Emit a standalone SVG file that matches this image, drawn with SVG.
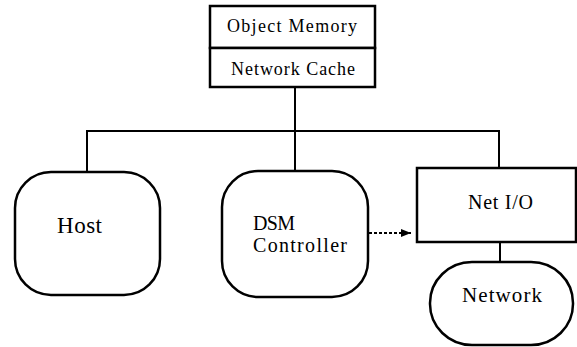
<svg xmlns="http://www.w3.org/2000/svg" width="577" height="347" viewBox="0 0 577 347">
<defs>
<style>
.box{fill:#fff;stroke:#000;stroke-width:2.5}
.ln{fill:none;stroke:#000;stroke-width:2}
text{font-family:'Liberation Serif','DejaVu Serif',serif;fill:#000}
</style>
<marker id="ah" viewBox="0 0 10 8" refX="10" refY="4" markerWidth="10" markerHeight="8" markerUnits="userSpaceOnUse" orient="auto">
<path d="M0,0 L10,4 L0,8 Z" fill="#000"/>
</marker>
</defs>
<rect width="577" height="347" fill="#fff"/>
<g id="connectors">
<path class="ln" d="M87,172 V131 H499 V168"/>
<path class="ln" d="M295,87 V171"/>
<path class="ln" d="M500,242 V262"/>
<path d="M369,233 H411" fill="none" stroke="#000" stroke-width="2" stroke-dasharray="3,2" marker-end="url(#ah)"/>
</g>
<g id="object-memory">
<rect class="box" x="210" y="6" width="165" height="42"/>
<text x="292" y="32" font-family="Liberation Serif, serif" font-size="18" text-anchor="middle" textLength="130" lengthAdjust="spacing">Object Memory</text>
</g>
<g id="network-cache">
<rect class="box" x="210" y="48" width="165" height="39"/>
<text x="293" y="75" font-family="Liberation Serif, serif" font-size="18" text-anchor="middle" textLength="124" lengthAdjust="spacing">Network Cache</text>
</g>
<g id="host">
<rect class="box" x="15" y="172" width="145" height="123" rx="36" ry="36"/>
<text x="57" y="233" font-family="Liberation Serif, serif" font-size="23" textLength="45" lengthAdjust="spacing">Host</text>
</g>
<g id="dsm-controller">
<rect class="box" x="222" y="171" width="146" height="126" rx="36" ry="36"/>
<text x="253" y="230" font-family="Liberation Serif, serif" font-size="20" textLength="42" lengthAdjust="spacing">DSM</text>
<text x="253" y="252" font-family="Liberation Serif, serif" font-size="20" textLength="94" lengthAdjust="spacing">Controller</text>
</g>
<g id="net-io">
<rect class="box" x="417" y="168" width="159" height="74"/>
<text x="468" y="209" font-family="Liberation Serif, serif" font-size="20" textLength="65" lengthAdjust="spacing">Net I/O</text>
</g>
<g id="network">
<rect class="box" x="430" y="262" width="143" height="83" rx="42" ry="41"/>
<text x="462" y="302" font-family="Liberation Serif, serif" font-size="21" textLength="80" lengthAdjust="spacing">Network</text>
</g>
</svg>
